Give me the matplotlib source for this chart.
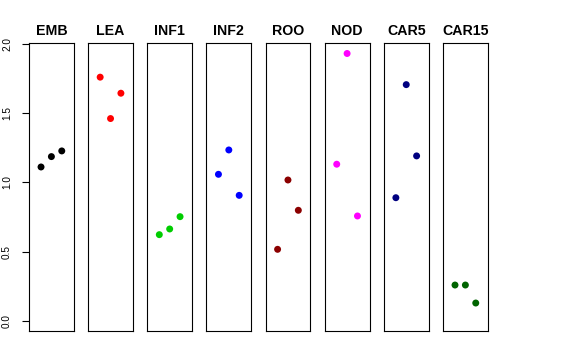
import matplotlib
matplotlib.use("Agg")
import matplotlib.pyplot as plt

plt.rcParams['font.family'] = ['Liberation Sans', 'DejaVu Sans']

categories = ["EMB", "LEA", "INF1", "INF2", "ROO", "NOD", "CAR5", "CAR15"]
colors = ["#000000", "#FF0000", "#00CD00", "#0000FF", "#8B0000", "#FF00FF", "#000080", "#006400"]
values = {
    "EMB":   [1.111, 1.186, 1.227],
    "LEA":   [1.760, 1.461, 1.644],
    "INF1":  [0.622, 0.663, 0.752],
    "INF2":  [1.058, 1.234, 0.906],
    "ROO":   [0.516, 1.017, 0.798],
    "NOD":   [1.131, 1.931, 0.757],
    "CAR5":  [0.889, 1.706, 1.191],
    "CAR15": [0.258, 0.258, 0.128],
}
replicates = [1, 2, 3]
yticks = [0.0, 0.5, 1.0, 1.5, 2.0]
ytick_labels = ["0.0", "0.5", "1.0", "1.5", "2.0"]

W, H = 576, 360
fig = plt.figure(figsize=(W / 100, H / 100), dpi=100)

left0 = 29.0
step = 59.14
width = 44.8
top = 42.7
bottom = 330.7

for i, (cat, col) in enumerate(zip(categories, colors)):
    l = left0 + i * step
    ax = fig.add_axes([l / W, (H - bottom) / H, width / W, (bottom - top) / H])
    ax.scatter(replicates, values[cat], s=25, color=col, edgecolors='none', zorder=3)
    ax.set_xlim(-0.16, 4.16)
    ax.set_ylim(-0.072, 2.009)
    ax.set_xticks([])
    for sp in ax.spines.values():
        sp.set_linewidth(0.8)
        sp.set_color('black')
    ax.set_title(cat, fontsize=10.2, fontweight='bold', pad=5.3)
    if i == 0:
        ax.set_yticks(yticks)
        ax.set_yticklabels(ytick_labels, rotation=90, va='center', fontsize=7.2)
        ax.tick_params(axis='y', length=5.0, width=0.8, pad=7.2)
    else:
        ax.set_yticks([])

fig.savefig("out.png", dpi=100)
